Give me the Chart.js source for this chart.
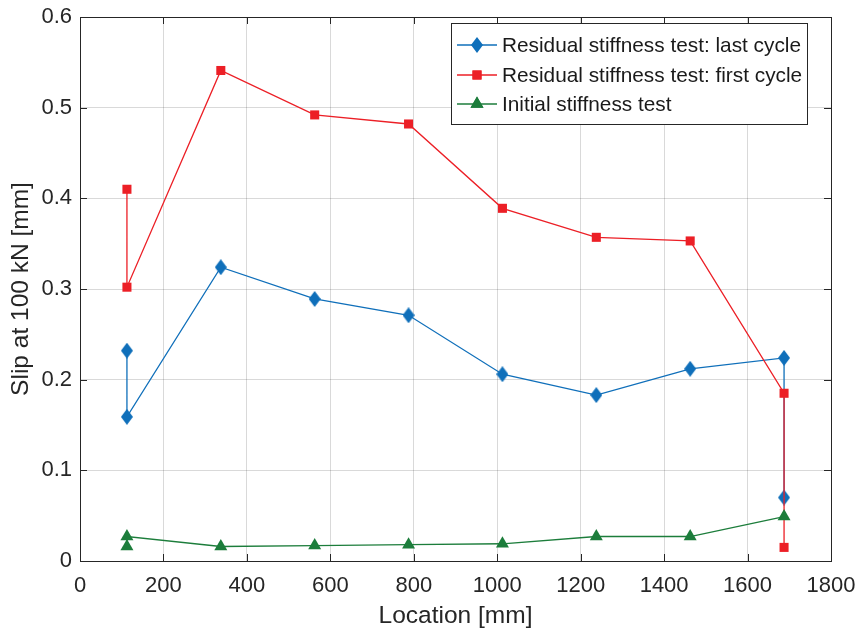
<!DOCTYPE html>
<html>
<head>
<meta charset="utf-8">
<script src="https://cdn.jsdelivr.net/npm/chart.js@4/dist/chart.umd.min.js"></script>
<style>
  html, body { margin: 0; padding: 0; background: #fff; }
  #wrap { width: 860px; height: 631px; }
</style>
</head>
<body>
<div id="wrap"><canvas id="slip-chart"></canvas></div>
<script>
// Measurement locations along the beam [mm]
const locations = [112.5, 337.5, 562.5, 787.5, 1012.5, 1237.5, 1462.5, 1687.5];

// Slip at 100 kN [mm]; first and last locations carry two readings each
const lastCycleX = [112.5, 112.5, 337.5, 562.5, 787.5, 1012.5, 1237.5, 1462.5, 1687.5, 1687.5];
const lastCycleY = [0.232, 0.159, 0.324, 0.289, 0.271, 0.206, 0.183, 0.212, 0.224, 0.070];

const firstCycleX = [112.5, 112.5, 337.5, 562.5, 787.5, 1012.5, 1237.5, 1462.5, 1687.5, 1687.5];
const firstCycleY = [0.410, 0.302, 0.541, 0.492, 0.482, 0.389, 0.357, 0.353, 0.185, 0.015];

const initialX = [112.5, 112.5, 337.5, 562.5, 787.5, 1012.5, 1237.5, 1462.5, 1687.5];
const initialY = [0.016, 0.027, 0.016, 0.017, 0.018, 0.019, 0.027, 0.027, 0.049];

const seriesNames = [
  "Residual stiffness test: last cycle",
  "Residual stiffness test: first cycle",
  "Initial stiffness test"
];

const xTickValues = [0, 200, 400, 600, 800, 1000, 1200, 1400, 1600, 1800];
const yTickValues = [0, 0.1, 0.2, 0.3, 0.4, 0.5, 0.6];

const FONT = "'Liberation Sans', Arial, Helvetica, sans-serif";
const AXIS_COLOR = "#262626";
const BLUE = "#0f6fba";
const RED = "#ec1f26";
const GREEN = "#1c7d3b";

function toPoints(xs, ys) {
  return xs.map((x, i) => ({ x: x, y: ys[i] }));
}

// narrow diamond marker, taller than wide
function makeDiamond(color, w, h) {
  const c = document.createElement("canvas");
  c.width = w;
  c.height = h;
  const g = c.getContext("2d");
  g.fillStyle = color;
  g.beginPath();
  g.moveTo(w / 2, 0);
  g.lineTo(w, h / 2);
  g.lineTo(w / 2, h);
  g.lineTo(0, h / 2);
  g.closePath();
  g.fill();
  return c;
}
const diamond = makeDiamond(BLUE, 12, 16);

// box around the axes, inward tick marks and the legend inside the plot
const axesDecor = {
  id: "axesDecor",
  afterDraw(chart) {
    const ctx = chart.ctx;
    const a = chart.chartArea;
    const xs = chart.scales.x;
    const ys = chart.scales.y;
    const tl = 7;
    ctx.save();
    ctx.strokeStyle = AXIS_COLOR;
    ctx.lineWidth = 1;
    ctx.beginPath();
    xs.ticks.forEach(t => {
      const px = Math.round(xs.getPixelForValue(t.value)) + 0.5;
      ctx.moveTo(px, a.bottom);
      ctx.lineTo(px, a.bottom - tl);
      ctx.moveTo(px, a.top);
      ctx.lineTo(px, a.top + tl);
    });
    ys.ticks.forEach(t => {
      const py = Math.round(ys.getPixelForValue(t.value)) + 0.5;
      ctx.moveTo(a.left, py);
      ctx.lineTo(a.left + tl, py);
      ctx.moveTo(a.right, py);
      ctx.lineTo(a.right - tl, py);
    });
    ctx.stroke();
    ctx.strokeRect(Math.round(a.left) + 0.5, Math.round(a.top) + 0.5,
      Math.round(a.right - a.left), Math.round(a.bottom - a.top));

    // legend
    const bx = 451.5, by = 23.5, bw = 356, bh = 101;
    ctx.fillStyle = "#fff";
    ctx.fillRect(bx, by, bw, bh);
    ctx.strokeStyle = AXIS_COLOR;
    ctx.strokeRect(bx, by, bw, bh);
    const rows = [45, 75, 104];
    chart.data.datasets.forEach((ds, i) => {
      const y = rows[i];
      ctx.strokeStyle = ds.borderColor;
      ctx.lineWidth = 1.3;
      ctx.beginPath();
      ctx.moveTo(457, y);
      ctx.lineTo(497, y);
      ctx.stroke();
      ctx.fillStyle = ds.backgroundColor;
      if (ds.pointStyle instanceof HTMLCanvasElement) {
        ctx.drawImage(ds.pointStyle, 477 - ds.pointStyle.width / 2, y - ds.pointStyle.height / 2);
      } else {
        Chart.helpers.drawPoint(ctx, {
          pointStyle: ds.pointStyle, radius: ds.pointRadius, borderWidth: 0
        }, 477, y);
        ctx.fill();
      }
      ctx.fillStyle = "#1a1a1a";
      ctx.font = "20.8px " + FONT;
      ctx.textBaseline = "middle";
      ctx.textAlign = "left";
      ctx.fillText(ds.label, 502, y + 1);
    });
    ctx.restore();
  }
};

const config = {
  type: "scatter",
  data: {
    datasets: [
      {
        label: seriesNames[0],
        data: toPoints(lastCycleX, lastCycleY),
        showLine: true,
        order: 3,
        borderColor: BLUE,
        backgroundColor: BLUE,
        borderWidth: 1.3,
        pointStyle: diamond,
        pointRadius: 7,
        pointHoverRadius: 7
      },
      {
        label: seriesNames[1],
        data: toPoints(firstCycleX, firstCycleY),
        showLine: true,
        order: 2,
        borderColor: RED,
        backgroundColor: RED,
        borderWidth: 1.3,
        pointStyle: "rect",
        pointRadius: 6.4,
        pointBorderWidth: 0,
        pointHoverRadius: 6.4
      },
      {
        label: seriesNames[2],
        data: toPoints(initialX, initialY),
        showLine: true,
        order: 1,
        borderColor: GREEN,
        backgroundColor: GREEN,
        borderWidth: 1.3,
        pointStyle: "triangle",
        pointRadius: 7.5,
        pointBorderWidth: 0,
        pointHoverRadius: 7.5
      }
    ]
  },
  options: {
    responsive: false,
    animation: false,
    events: [],
    layout: { padding: { top: 17, right: 29, left: 0, bottom: 0 } },
    plugins: {
      legend: { display: false },
      tooltip: { enabled: false }
    },
    elements: { line: { tension: 0 } },
    scales: {
      x: {
        type: "linear",
        min: 0,
        max: 1800,
        afterBuildTicks: s => { s.ticks = xTickValues.map(v => ({ value: v })); },
        afterFit: s => {
          s.height = 70;
          s.paddingLeft = 0;
          s.paddingRight = 0;
        },
        grid: { color: "rgba(0,0,0,0.15)", drawTicks: false },
        border: { display: false },
        ticks: {
          padding: 12,
          color: "#262626",
          font: { family: FONT, size: 22 },
          callback: v => String(v)
        },
        title: {
          display: true,
          text: "Location [mm]",
          color: "#262626",
          font: { family: FONT, size: 24.5 },
          padding: { top: 0, bottom: 0 }
        }
      },
      y: {
        type: "linear",
        min: 0,
        max: 0.6,
        afterBuildTicks: s => { s.ticks = yTickValues.map(v => ({ value: v })); },
        afterFit: s => {
          s.width = 80;
          s.paddingTop = 0;
          s.paddingBottom = 0;
        },
        grid: { color: "rgba(0,0,0,0.15)", drawTicks: false },
        border: { display: false },
        ticks: {
          padding: 8,
          color: "#262626",
          font: { family: FONT, size: 22 },
          callback: v => String(Math.round(v * 10) / 10)
        },
        title: {
          display: true,
          text: "Slip at 100 kN [mm]",
          color: "#262626",
          font: { family: FONT, size: 24.5 },
          padding: { top: 7, bottom: 0 }
        }
      }
    }
  },
  plugins: [axesDecor]
};

const canvas = document.getElementById("slip-chart");
canvas.width = 860;
canvas.height = 631;
new Chart(canvas.getContext("2d"), config);
</script>
</body>
</html>
